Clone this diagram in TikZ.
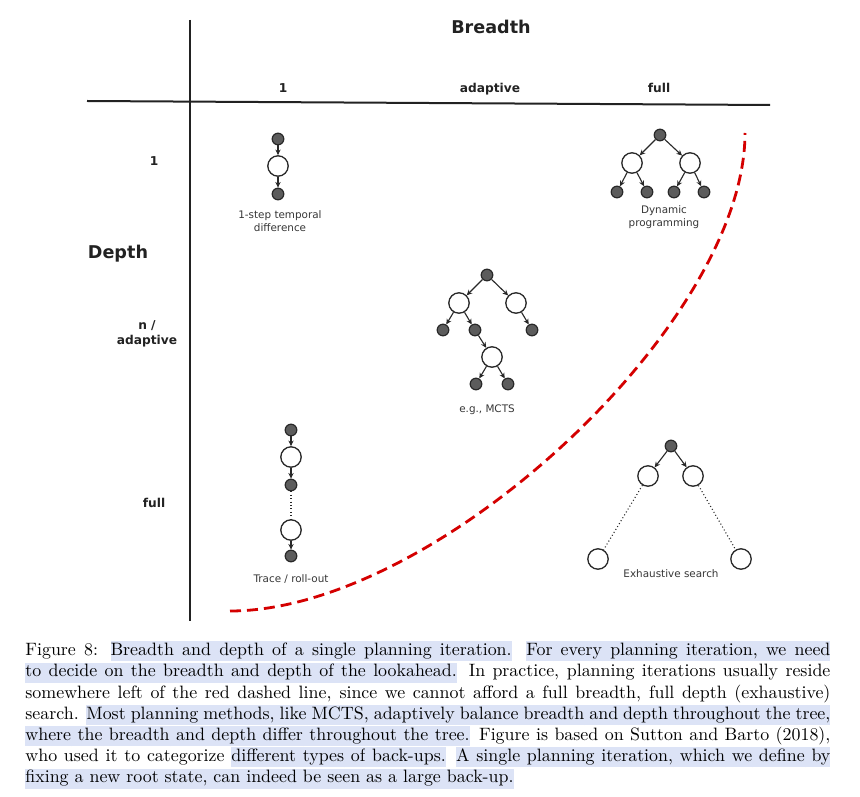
\documentclass[tikz,border=0pt]{standalone}
\usepackage{fontspec}
\usetikzlibrary{arrows.meta,positioning}
\newfontfamily\diafont{DejaVu Sans}
\newfontfamily\capfont{lmroman10-regular}[Extension=.otf]
\definecolor{bdAxis}{RGB}{34,34,34}
\definecolor{bdText}{RGB}{55,55,55}
\definecolor{bdNodeLine}{RGB}{40,40,40}
\definecolor{bdNodeFill}{RGB}{92,92,92}
\definecolor{bdEdge}{RGB}{40,40,40}
\definecolor{bdRed}{RGB}{212,0,0}
\definecolor{bdHl}{RGB}{220,227,246}
% highlighted caption text: one box per word, ruled glue between words
\newcommand{\hlSpace}{{\color{bdHl}\leaders\hrule height 0.8em depth 0.32em\hskip\fontdimen2\font plus\fontdimen3\font minus\fontdimen4\font}}
\newcommand{\hlBox}[1]{\setbox0\hbox{#1}\rlap{\color{bdHl}\vrule height 0.8em depth 0.32em width\wd0}\box0}
\def\hlWords#1 #2\hlStop{\hlBox{#1}\ifx\relax#2\relax\else\hlSpace\hlWords#2\hlStop\fi}
\newcommand{\hlspan}[1]{\hlWords#1 \hlStop\spacefactor3000 }

\begin{document}
\begin{tikzpicture}[x=0.5pt, y=-0.5pt,
      axisline/.style={line width=1pt, draw=bdAxis},
      axtitle/.style={font=\diafont\bfseries\fontsize{8.8}{10}\selectfont,
        text=bdAxis, inner sep=0pt, anchor=base},
      axlbl/.style={font=\diafont\bfseries\fontsize{6.1}{7.5}\selectfont,
        text=bdAxis, align=center, inner sep=0pt, anchor=base},
      actnode/.style={circle, draw=bdNodeLine, fill=bdNodeFill, line width=0.6pt,
        minimum size=5.8pt, inner sep=0pt},
      statenode/.style={circle, draw=bdNodeLine, fill=white, line width=0.65pt,
        minimum size=10.2pt, inner sep=0pt},
      arr/.style={-{Stealth[length=2.8pt, width=2.6pt]}, line width=0.55pt, draw=bdEdge},
      dotedge/.style={line width=0.55pt, draw=bdEdge, dash pattern=on 0.5pt off 1.2pt},
      treelbl/.style={font=\diafont\fontsize{5.2}{6.5}\selectfont, text=bdText,
        align=center, inner sep=0pt},
      redline/.style={draw=bdRed, line width=1.4pt, dash pattern=on 5.5pt off 3pt},
      capnode/.style={text width=402.5pt, align=justify, inner sep=0pt,
        font=\capfont\fontsize{8.95}{10.6}\selectfont},
    ]
    \path[use as bounding box, fill=white] (0,0) rectangle (860,796);

    % ---- Axes ----
    \coordinate (vtop) at (190,20);
    \coordinate (vbot) at (190,621);
    \coordinate (hleft) at (87,101);
    \coordinate (hright) at (770,105);
    \draw[axisline] (vtop) -- (vbot);
    \draw[axisline] (hleft) -- (hright);

    \node[axtitle] (breadth) at (491,34) {Breadth};
    \node[axtitle] (depth) at (118,259) {Depth};
    \node[axlbl] (colone) at (283,93) {1};
    \node[axlbl] (coladapt) at (490,93) {adaptive};
    \node[axlbl] (colfull) at (659,93) {full};
    \node[axlbl] (rowone) at (154,166) {1};
    \node[axlbl] (rowadapt) at (147,344) {n /\\ adaptive};
    \node[axlbl] (rowfull) at (154,507) {full};

    % ---- 1-step temporal difference ----
    \node[actnode] (td1) at (278,139) {};
    \node[statenode] (td2) at (278,166) {};
    \node[actnode] (td3) at (278,194) {};
    \node[treelbl, below=4.8pt of td3, xshift=1pt] (tdlbl) {1-step temporal\\ difference};
    \draw[arr] (td1) -- (td2);
    \draw[arr] (td2) -- (td3);

    % ---- Dynamic programming ----
    \node[actnode] (dp0) at (660,135) {};
    \node[statenode] (dp1) at (632,163) {};
    \node[statenode] (dp2) at (690,163) {};
    \node[actnode] (dp3) at (617,192) {};
    \node[actnode] (dp4) at (647,192) {};
    \node[actnode] (dp5) at (674,192) {};
    \node[actnode] (dp6) at (704,192) {};
    \node[treelbl, anchor=north] (dplbl) at (664,205) {Dynamic\\ programming};
    \draw[arr] (dp0) -- (dp1);
    \draw[arr] (dp0) -- (dp2);
    \draw[arr] (dp1) -- (dp3);
    \draw[arr] (dp1) -- (dp4);
    \draw[arr] (dp2) -- (dp5);
    \draw[arr] (dp2) -- (dp6);

    % ---- MCTS ----
    \node[actnode] (mc0) at (487,275) {};
    \node[statenode] (mc1) at (459,303) {};
    \node[statenode] (mc2) at (516,303) {};
    \node[actnode] (mc3) at (443,330) {};
    \node[actnode] (mc4) at (475,330) {};
    \node[actnode] (mc5) at (532,330) {};
    \node[statenode] (mc6) at (492,357) {};
    \node[actnode] (mc7) at (476,384) {};
    \node[actnode] (mc8) at (508,384) {};
    \node[treelbl, anchor=base] (mclbl) at (487,412) {e.g., MCTS};
    \draw[arr] (mc0) -- (mc1);
    \draw[arr] (mc0) -- (mc2);
    \draw[arr] (mc1) -- (mc3);
    \draw[arr] (mc1) -- (mc4);
    \draw[arr] (mc2) -- (mc5);
    \draw[arr] (mc4) -- (mc6);
    \draw[arr] (mc6) -- (mc7);
    \draw[arr] (mc6) -- (mc8);

    % ---- Trace / roll-out ----
    \node[actnode] (tr1) at (291,430) {};
    \node[statenode] (tr2) at (291,457) {};
    \node[actnode] (tr3) at (291,485) {};
    \node[statenode] (tr4) at (291,530) {};
    \node[actnode] (tr5) at (291,556) {};
    \node[treelbl, below=6pt of tr5] (trlbl) {Trace / roll-out};
    \draw[arr] (tr1) -- (tr2);
    \draw[arr] (tr2) -- (tr3);
    \draw[dotedge] (tr3) -- (tr4);
    \draw[arr] (tr4) -- (tr5);

    % ---- Exhaustive search ----
    \node[actnode] (ex0) at (671,446) {};
    \node[statenode] (ex1) at (648,476) {};
    \node[statenode] (ex2) at (693,476) {};
    \node[statenode] (ex3) at (598,559) {};
    \node[statenode] (ex4) at (741,559) {};
    \node[treelbl, anchor=base] (exlbl) at (671,577) {Exhaustive search};
    \draw[arr] (ex0) -- (ex1);
    \draw[arr] (ex0) -- (ex2);
    \draw[dotedge] (ex1) -- (ex3);
    \draw[dotedge] (ex2) -- (ex4);

    % ---- Red dashed frontier ----
    \coordinate (redstart) at (230,611);
    \coordinate (redend) at (745,133);
    \draw[redline] (redstart) .. controls (436,611) and (745,324) .. (redend);

    % ---- Caption ----
    \node[capnode, anchor=north west] (cap) at (25,641)
      {\noindent Figure 8: \hlspan{Breadth and depth of a single planning iteration.} \hlspan{For every planning iteration, we need}\linebreak
       \hlspan{to decide on the breadth and depth of the lookahead.} In practice, planning iterations usually reside\linebreak
       somewhere left of the red dashed line, since we cannot afford a full breadth, full depth (exhaustive)\linebreak
       search. \hlspan{Most planning methods, like MCTS, adaptively balance breadth and depth throughout the tree,}\linebreak
       \hlspan{where the breadth and depth differ throughout the tree.} Figure is based on Sutton and Barto (2018),\linebreak
       who used it to categorize \hlspan{different types of back-ups.} \hlspan{A single planning iteration, which we define by}\linebreak
       \hlspan{fixing a new root state, can indeed be seen as a large back-up.}};
  \end{tikzpicture}
\end{document}
